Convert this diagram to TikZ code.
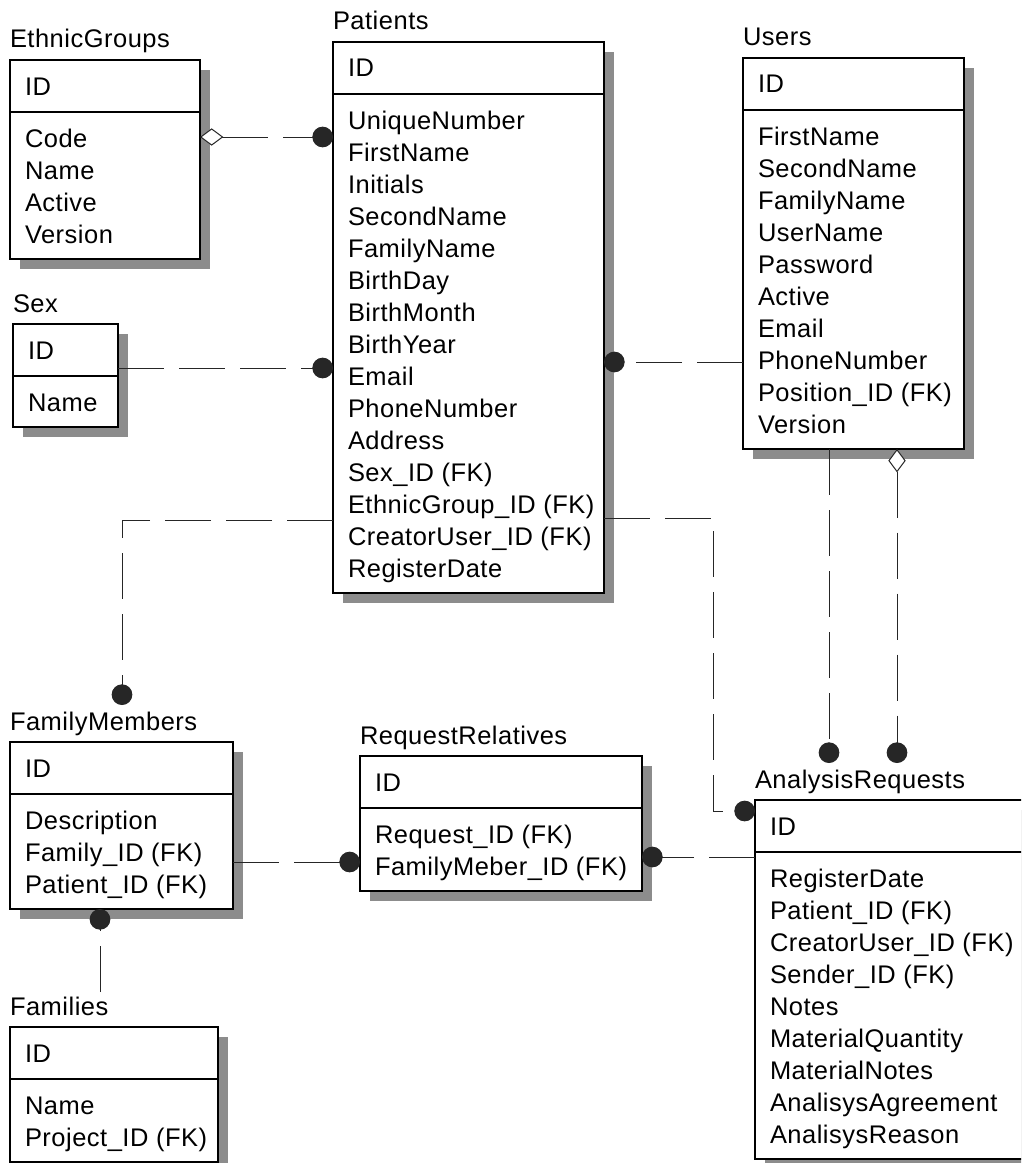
\documentclass[tikz,border=0pt]{standalone}
\usepackage{fontspec}
\setmainfont{Liberation Sans}[LetterSpace=2]
\usetikzlibrary{arrows.meta,calc}

\tikzset{
  entitybox/.style={draw=black, fill=white, line width=0.8pt, anchor=north west,
                    inner sep=0pt, outer sep=0pt},
  shadowfill/.style={fill=black!45},
  rule/.style={draw=black, line width=0.8pt},
  etext/.style={anchor=base west, inner sep=0pt, outer sep=0pt,
                font=\fontsize{19.1pt}{24pt}\selectfont},
  rel/.style={draw=black!85, line width=0.75pt, dash pattern=on 34.5pt off 11.25pt},
  todot/.style={-{Circle[length=15.5pt]}},
  diadot/.style={{Diamond[length=17.5pt,width=13pt,fill=white]}-{Circle[length=15.5pt]}},
}

% \entity{name}{left}{top}{right}{title}{attributes}{number of attributes}
\newcommand\entity[7]{%
  \pgfmathsetmacro\entbottom{#3+87+32*(#7-1)+16}
  \fill[shadowfill] (#2+10,#3+10) rectangle (#4+10,\entbottom+10);
  \node[entitybox, minimum width={(#4-#2)*0.75pt},
        minimum height={(\entbottom-#3)*0.75pt}] (#1) at (#2,#3) {};
  \draw[rule] (#2,#3+52) -- (#4,#3+52);
  \node[etext] (#1-title) at (#2,#3-12) {#5};
  \node[etext] (#1-id) at (#2+15,#3+35) {ID};
  \foreach \t [count=\i] in {#6}
    \node[etext] (#1-\i) at (#2+15,#3+55+32*\i) {\t};
}

\begin{document}
\begin{tikzpicture}[x=0.75pt, y=-0.75pt]
  \path[use as bounding box] (0,0) rectangle (1021,1163);
  \clip (0,0) rectangle (1021,1163);

  % entities
  \entity{eg}{10}{60}{200}{EthnicGroups}{Code,Name,Active,Version}{4}
  \entity{pt}{333}{42}{604}{Patients}{UniqueNumber,FirstName,Initials,SecondName,FamilyName,BirthDay,BirthMonth,BirthYear,Email,PhoneNumber,Address,Sex\_ID (FK),EthnicGroup\_ID (FK),CreatorUser\_ID (FK),RegisterDate}{15}
  \entity{us}{743}{58}{964}{Users}{FirstName,SecondName,FamilyName,UserName,Password,Active,Email,PhoneNumber,Position\_ID (FK),Version}{10}
  \entity{sx}{13}{324}{118}{Sex}{Name}{1}
  \entity{fm}{10}{742}{233}{FamilyMembers}{Description,Family\_ID (FK),Patient\_ID (FK)}{3}
  \entity{fa}{10}{1027}{218}{Families}{Name,Project\_ID (FK)}{2}
  \entity{rr}{360}{756}{642}{RequestRelatives}{Request\_ID (FK),FamilyMeber\_ID (FK)}{2}
  \entity{ar}{755}{800}{1035}{AnalysisRequests}{RegisterDate,Patient\_ID (FK),CreatorUser\_ID (FK),Sender\_ID (FK),Notes,MaterialQuantity,MaterialNotes,AnalisysAgreement,AnalisysReason}{9}

  % relationships
  \draw[rel, diadot] ($(eg.north east)+(0,77)$) -- ($(pt.north west)+(0,95)$);
  \draw[rel, todot] ($(sx.north east)+(0,44)$) -- ($(pt.north west)+(0,326)$);
  \draw[rel, todot] ($(us.north west)+(0,304)$) -- ($(pt.north east)+(0,320)$);
  \draw[rel, todot] ($(pt.north west)+(0,478)$) -| ($(fm.north west)+(112,-37)$);
  \draw[rel, todot] ($(pt.north east)+(0,476)$) -| ($(ar.north west)+(-42,11)$)
                    -- ($(ar.north west)+(0,11)$);
  \draw[rel, todot] ($(us.south west)+(86,0)$) -- ($(ar.north west)+(74,-37)$);
  \draw[rel, diadot] ($(us.south west)+(154,0)$) -- ($(ar.north west)+(142,-37)$);
  \draw[rel, todot] ($(fm.north east)+(0,120)$) -- ($(rr.north west)+(0,106)$);
  \draw[rel, todot] ($(ar.north west)+(0,57)$) -- ($(rr.north east)+(0,101)$);
  \draw[rel, todot] ($(fa.north west)+(90,-35)$) -- ($(fm.south west)+(90,0)$);
\end{tikzpicture}
\end{document}
